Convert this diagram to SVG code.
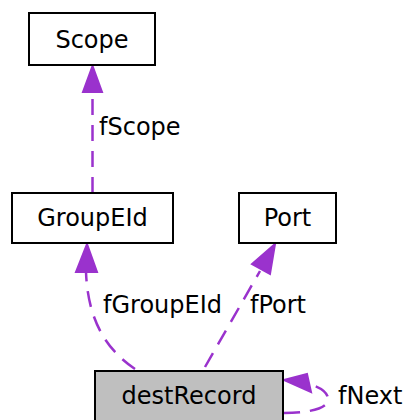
<svg xmlns="http://www.w3.org/2000/svg" width="409" height="420" viewBox="0 0 409 420">
<style>
.box{fill:#ffffff;stroke:#000000;stroke-width:2}
.t{font-family:"DejaVu Sans",sans-serif;font-size:24px;fill:#000000}
.e{fill:none;stroke:#9a32cd;stroke-width:2.5;stroke-dasharray:16,10}
.h{fill:#9a32cd;stroke:#9a32cd;stroke-width:2}
</style>
<rect width="409" height="420" fill="#ffffff"/>
<g id="edges">
<path class="e" d="M92.5,193 L92.5,92"/>
<polygon class="h" points="92.5,66 83,92 102,92"/>
<text class="t" x="99" y="135">fScope</text>
<path class="e" d="M135,369 C110,352 88,325 86,272"/>
<polygon class="h" points="87,244 76,272 97,272"/>
<text class="t" x="103" y="313">fGroupEId</text>
<path class="e" d="M205,367 L260,271"/>
<polygon class="h" points="275,244 252,264 270,274"/>
<text class="t" x="250" y="313">fPort</text>
<path class="e" d="M284,413 C310,413 330,408 328,398 C327,392 320,387 309,384"/>
<polygon class="h" points="284,380 307,374 311,392"/>
<text class="t" x="338" y="404">fNext</text>
</g>
<g id="Scope">
<rect class="box" x="29" y="13" width="126" height="52"/>
<text class="t" x="92" y="47.5" text-anchor="middle">Scope</text>
</g>
<g id="GroupEId">
<rect class="box" x="12" y="193" width="161" height="50"/>
<text class="t" x="92.5" y="226" text-anchor="middle">GroupEId</text>
</g>
<g id="Port">
<rect class="box" x="239" y="193" width="97" height="50"/>
<text class="t" x="287.5" y="226" text-anchor="middle">Port</text>
</g>
<g id="destRecord">
<rect class="box" x="95" y="371" width="188" height="52" style="fill:#bfbfbf"/>
<text class="t" x="189" y="404" text-anchor="middle">destRecord</text>
</g>
</svg>
